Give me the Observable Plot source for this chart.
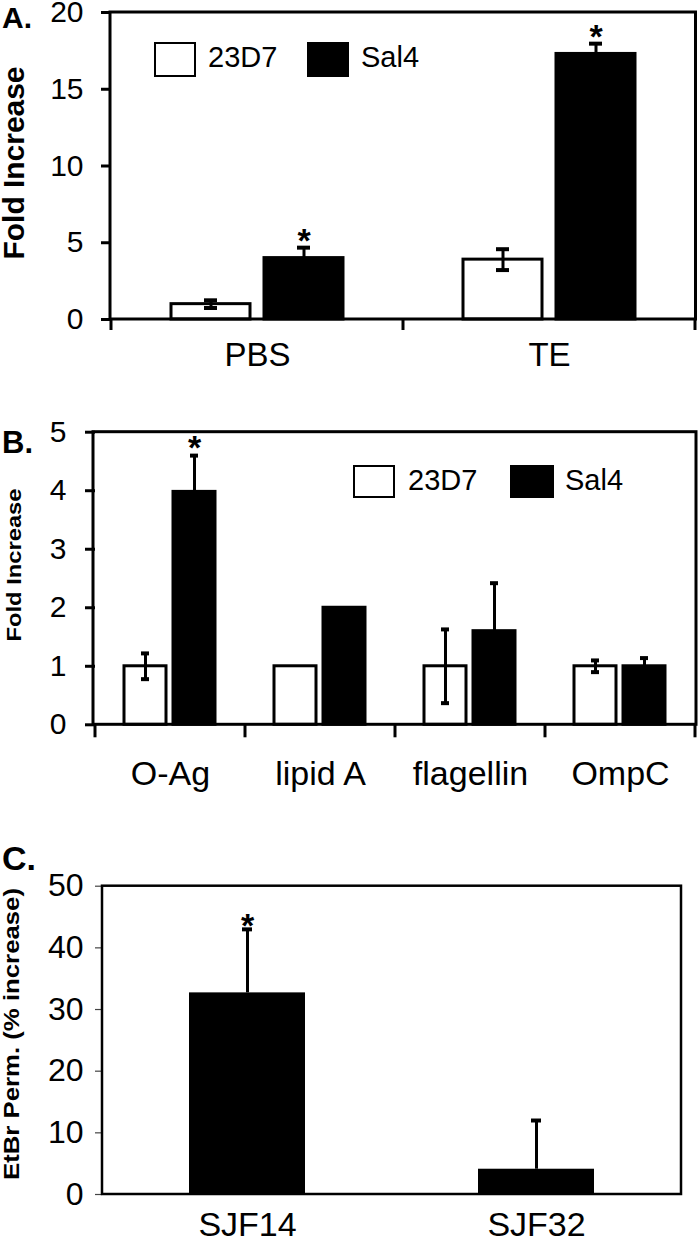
<!DOCTYPE html>
<html><head><meta charset="utf-8">
<script src="https://cdn.jsdelivr.net/npm/d3@7"></script>
<script src="https://cdn.jsdelivr.net/npm/@observablehq/plot@0.6"></script>
<style>
html,body{margin:0;padding:0;background:#fff;overflow:hidden;}
#root{width:700px;}
#root svg{display:block;}
</style>
</head><body><div id="root"></div>
<script>
const FONT = "'Liberation Sans', Arial, Helvetica, sans-serif";

// ---- shared series ----
const series = ["23D7", "Sal4"];
const seriesFill = ["#ffffff", "#000000"];

// ---- Panel A ----
const catsA = ["PBS", "TE"];
const a23D7 = [1.0, 3.9];
const a23D7Err = [0.25, 0.68];
const a23D7Sig = [false, false];
const aSal4 = [4.0, 17.3];
const aSal4Err = [0.68, 0.67];
const aSal4Sig = [true, true];
const yTicksA = [0, 5, 10, 15, 20];

// ---- Panel B ----
const catsB = ["O-Ag", "lipid A", "flagellin", "OmpC"];
const b23D7 = [1.0, 1.0, 1.0, 1.0];
const b23D7Err = [0.22, 0, 0.63, 0.1];
const b23D7Sig = [false, false, false, false];
const bSal4 = [3.98, 2.0, 1.6, 1.0];
const bSal4Err = [0.62, 0, 0.82, 0.14];
const bSal4Sig = [true, false, false, false];
const yTicksB = [0, 1, 2, 3, 4, 5];

// ---- Panel C ----
const catsC = ["SJF14", "SJF32"];
const cVals = [32.7, 4.1];
const cErr = [10.3, 7.9];
const cSig = [true, false];
const yTicksC = [0, 10, 20, 30, 40, 50];

const intFmt = d3.format("d");

function rows(cats, vals, errs, sigs) {
  return cats.flatMap((c, i) => series.map((s, j) => ({
    cat: c, series: s, value: vals[j][i], err: errs[j][i], sig: sigs[j][i]
  })));
}

function addText(svg, t) {
  const el = d3.select(svg).append("text")
    .attr("font-family", FONT).attr("font-size", t.size)
    .attr("font-weight", t.weight || "normal").attr("fill", "#000").text(t.text);
  if (t.rotate) {
    el.attr("transform", `translate(${t.x},${t.y}) rotate(${t.rotate})`)
      .attr("text-anchor", "middle").attr("dy", "0.35em");
  } else {
    el.attr("x", t.x).attr("y", t.y).attr("text-anchor", t.anchor || "start");
  }
  if (t.length) el.attr("textLength", t.length).attr("lengthAdjust", "spacingAndGlyphs");
}

function addFrame(svg, L) {
  d3.select(svg).append("rect")
    .attr("x", L.ml).attr("y", L.mt)
    .attr("width", 700 - L.ml - L.mr).attr("height", L.h - L.mt - L.mb)
    .attr("fill", "none").attr("stroke", "#000").attr("stroke-width", L.frameW);
}

function addBoundaryTicks(svg, plot, L) {
  const fx = plot.scale("fx");
  const xs = fx.domain.map(d => fx.apply(d));
  xs.push(fx.apply(fx.domain[fx.domain.length - 1]) + fx.bandwidth);
  const y0 = L.h - L.mb;
  const g = d3.select(svg).append("g").attr("stroke", "#000").attr("stroke-width", 3);
  xs.forEach(x => g.append("line").attr("x1", x).attr("x2", x).attr("y1", y0).attr("y2", y0 + L.tickLen));
}

function addLegend(svg, L) {
  const s = d3.select(svg);
  series.forEach((name, i) => {
    s.append("rect").attr("x", L.boxX[i]).attr("y", L.boxY)
      .attr("width", L.boxW[i]).attr("height", L.boxH)
      .attr("fill", seriesFill[i]).attr("stroke", "#000").attr("stroke-width", 2);
    addText(svg, {x: L.textX[i], y: L.textY, text: name, size: L.size});
  });
}

function groupedPlot(data, cats, yDomain, yTicks, L) {
  const errRows = data.filter(d => d.err > 0);
  return Plot.plot({
    width: 700, height: L.h,
    marginTop: L.mt, marginBottom: L.mb, marginLeft: L.ml, marginRight: L.mr,
    style: {fontFamily: FONT, background: "#fff", color: "#000", overflow: "visible"},
    fx: {domain: cats, padding: 0},
    x: {domain: series, paddingInner: L.pi, paddingOuter: L.po, axis: null},
    y: {domain: yDomain},
    color: {domain: series, range: seriesFill},
    marks: [
      Plot.barY(data, {fx: "cat", x: "series", y: "value", fill: "series", stroke: "#000", strokeWidth: 3}),
      Plot.ruleX(errRows, {fx: "cat", x: "series", y1: d => d.value - d.err, y2: d => d.value + d.err, stroke: "#000", strokeWidth: 3}),
      Plot.tickY(errRows, {fx: "cat", x: "series", y: d => d.value + d.err, stroke: "#000", strokeWidth: 4, insetLeft: L.capInset, insetRight: L.capInset}),
      Plot.tickY(errRows.filter(d => d.series === series[0]), {fx: "cat", x: "series", y: d => d.value - d.err, stroke: "#000", strokeWidth: 4, insetLeft: L.capInset, insetRight: L.capInset}),
      Plot.text(data.filter(d => d.sig), {fx: "cat", x: "series", y: d => d.value + d.err, text: () => "*", fontSize: 34, fontWeight: "bold", dy: -7}),
      Plot.axisY({ticks: yTicks, tickFormat: intFmt, tickSize: L.tickSize, tickPadding: L.tickPad, fontSize: L.tickFont, strokeWidth: 3, label: null}),
      Plot.axisFx({anchor: "bottom", tickSize: 0, tickPadding: L.xPad, fontSize: L.xFont, label: null})
    ]
  });
}

const root = document.getElementById("root");

// ===== Panel A =====
const LA = {h: 375, mt: 12, mb: 56, ml: 110, mr: 4.5, pi: 0.149, po: 0.632, capInset: 33,
  tickSize: 10, tickPad: 18, tickFont: 30, xPad: 23, xFont: 33, frameW: 3, tickLen: 11};
const dataA = rows(catsA, [a23D7, aSal4], [a23D7Err, aSal4Err], [a23D7Sig, aSal4Sig]);
const plotA = groupedPlot(dataA, catsA, [0, 20], yTicksA, LA);
addFrame(plotA, LA);
addBoundaryTicks(plotA, plotA, LA);
addLegend(plotA, {boxX: [155, 308], boxW: [40, 40], boxY: 43, boxH: 33, textX: [208, 361], textY: 67, size: 29});
addText(plotA, {x: 2, y: 28, text: "A.", size: 30, weight: "bold"});
addText(plotA, {x: 14, y: 163, text: "Fold Increase", size: 29, weight: "bold", rotate: -90, length: 193});
root.appendChild(plotA);

// ===== Panel B =====
const LB = {h: 440, mt: 56.7, mb: 90.7, ml: 93, mr: 4, pi: 0.14, po: 0.5775, capInset: 17,
  tickSize: 10, tickPad: 19, tickFont: 30, xPad: 36, xFont: 34, frameW: 3, tickLen: 13};
const dataB = rows(catsB, [b23D7, bSal4], [b23D7Err, bSal4Err], [b23D7Sig, bSal4Sig]);
const plotB = groupedPlot(dataB, catsB, [0, 5], yTicksB, LB);
addFrame(plotB, LB);
addBoundaryTicks(plotB, plotB, LB);
addLegend(plotB, {boxX: [354, 511], boxW: [40, 42], boxY: 91, boxH: 31, textX: [408, 565], textY: 115, size: 29});
addText(plotB, {x: 2, y: 78, text: "B.", size: 31, weight: "bold"});
addText(plotB, {x: 13.5, y: 190, text: "Fold Increase", size: 21, weight: "bold", rotate: -90, length: 153});
root.appendChild(plotB);

// ===== Panel C =====
const LC = {h: 429, mt: 70.7, mb: 50, ml: 102, mr: 19, frameW: 2.5};
const dataC = catsC.map((c, i) => ({cat: c, value: cVals[i], err: cErr[i], sig: cSig[i]}));
const plotC = Plot.plot({
  width: 700, height: LC.h,
  marginTop: LC.mt, marginBottom: LC.mb, marginLeft: LC.ml, marginRight: LC.mr,
  style: {fontFamily: FONT, background: "#fff", color: "#000", overflow: "visible"},
  x: {domain: catsC, paddingInner: 0.6, paddingOuter: 0.3},
  y: {domain: [0, 50]},
  marks: [
    Plot.barY(dataC, {x: "cat", y: "value", fill: "#000"}),
    Plot.ruleX(dataC, {x: "cat", y1: "value", y2: d => d.value + d.err, stroke: "#000", strokeWidth: 3}),
    Plot.tickY(dataC, {x: "cat", y: d => d.value + d.err, stroke: "#000", strokeWidth: 4, insetLeft: 53, insetRight: 53}),
    Plot.text(dataC.filter(d => d.sig), {x: "cat", y: d => d.value + d.err, text: () => "*", fontSize: 34, fontWeight: "bold", dy: -3}),
    Plot.axisY({ticks: yTicksC, tickFormat: intFmt, tickSize: 7, tickPadding: 12, fontSize: 32, stroke: "#444", strokeWidth: 1.2, label: null}),
    Plot.axisX({tickSize: 0, tickPadding: 17, fontSize: 34, label: null})
  ]
});
addFrame(plotC, LC);
addText(plotC, {x: 2, y: 55, text: "C.", size: 34, weight: "bold"});
addText(plotC, {x: 11, y: 219, text: "EtBr Perm. (% increase)", size: 22, weight: "bold", rotate: -90, length: 292});
root.appendChild(plotC);
</script>
</body></html>
